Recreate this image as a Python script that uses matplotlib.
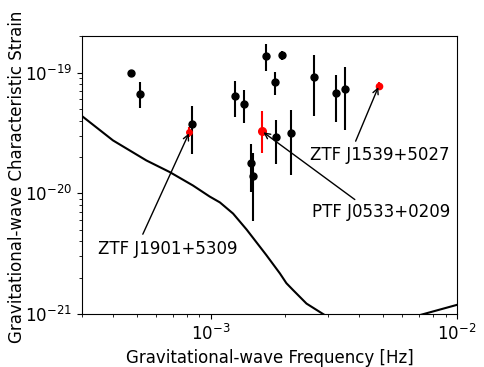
import numpy as np
import matplotlib
matplotlib.use("Agg")
import matplotlib.pyplot as plt

# --- binaries: frequency [Hz], characteristic strain and error bar ends ---
bin_freq = [4.73e-4, 5.14e-4, 8.37e-4, 1.25e-3, 1.36e-3, 1.68e-3, 1.95e-3, 1.82e-3,
            2.62e-3, 3.22e-3, 3.51e-3, 1.85e-3, 2.11e-3, 1.46e-3, 1.49e-3]
bin_strain = [1.00e-19, 6.66e-20, 3.72e-20, 6.34e-20, 5.50e-20, 1.37e-19, 1.41e-19, 8.40e-20,
              9.27e-20, 6.80e-20, 7.28e-20, 2.92e-20, 3.18e-20, 1.79e-20, 1.38e-20]
bin_hi = [1.00e-19, 8.30e-20, 5.26e-20, 8.43e-20, 7.20e-20, 1.73e-19, 1.52e-19, 1.01e-19,
          1.41e-19, 9.60e-20, 1.11e-19, 4.06e-20, 4.94e-20, 2.58e-20, 2.17e-20]
bin_lo = [1.00e-19, 5.10e-20, 2.13e-20, 4.25e-20, 3.81e-20, 1.03e-19, 1.26e-19, 6.55e-20,
          4.33e-20, 3.89e-20, 3.36e-20, 1.76e-20, 1.41e-20, 1.03e-20, 5.87e-21]

# highlighted new systems
new_names = ["ZTF J1901+5309", "PTF J0533+0209", "ZTF J1539+5027"]
new_freq = [8.20e-4, 1.62e-3, 4.82e-3]
new_strain = [3.21e-20, 3.25e-20, 7.76e-20]
new_hi = [3.53e-20, 4.77e-20, 8.40e-20]
new_lo = [2.92e-20, 2.15e-20, 7.20e-20]
new_size = [4, 5.5, 4.5]

# label placement (text anchor, arrow tail), data coords
label_xy = [(3.48e-4, 3.44e-21), (2.58e-3, 7.0e-21), (2.52e-3, 2.06e-20)]
arrow_tail = [(5.3e-4, 4.58e-21), (3.85e-3, 8.87e-21), (3.88e-3, 2.70e-20)]

# sensitivity curve
curve_freq = [3.0e-4, 4.01e-4, 5.48e-4, 6.81e-4, 8.47e-4, 9.9e-4, 1.09e-3, 1.233e-3,
              1.40e-3, 1.68e-3, 1.91e-3, 2.03e-3, 2.16e-3, 2.45e-3, 2.86e-3, 3.55e-3,
              4.47e-3, 5.62e-3, 7.08e-3, 1.0e-2]
curve_strain = [4.36e-20, 2.74e-20, 1.87e-20, 1.50e-20, 1.16e-20, 9.4e-21, 8.4e-21, 6.79e-21,
                5.0e-21, 3.09e-21, 2.17e-21, 1.80e-21, 1.58e-21, 1.22e-21, 1.0e-21, 7.6e-22,
                7.1e-22, 7.9e-22, 9.8e-22, 1.19e-21]

x_ticks = [1e-3, 1e-2]
y_ticks = [1e-21, 1e-20, 1e-19]

fig = plt.figure(figsize=(4.85, 3.67), dpi=100)
ax = fig.add_axes([0.169, 0.1444, 0.773, 0.757])

ax.plot(curve_freq, curve_strain, color="black", lw=1.5)

s = np.array(bin_strain)
yerr = [s - np.array(bin_lo), np.array(bin_hi) - s]
ax.errorbar(bin_freq, bin_strain, yerr=yerr, fmt="o", color="black", ms=5, elinewidth=1.5)

for i in range(len(new_names)):
    err = [[new_strain[i] - new_lo[i]], [new_hi[i] - new_strain[i]]]
    ax.errorbar([new_freq[i]], [new_strain[i]], yerr=err, fmt="o", color="red",
                ms=new_size[i], elinewidth=1.5)
    ax.annotate("", xy=(new_freq[i], new_strain[i]), xytext=arrow_tail[i],
                arrowprops=dict(arrowstyle="->", color="black", lw=1, shrinkA=0, shrinkB=1))
    ax.text(label_xy[i][0], label_xy[i][1], new_names[i], fontsize=12,
            ha="left", va="center")

ax.set_xscale("log")
ax.set_yscale("log")
ax.set_xticks(x_ticks)
ax.set_yticks(y_ticks)
ax.set_xlim(3e-4, 1e-2)
ax.set_ylim(1e-21, 2e-19)
ax.tick_params(labelsize=12)
ax.set_xlabel("Gravitational-wave Frequency [Hz]", fontsize=12)
ax.set_ylabel("Gravitational-wave Characteristic Strain", fontsize=12)
ax.yaxis.set_label_coords(-0.15, 0.493)

fig.savefig("out.png", dpi=100)
